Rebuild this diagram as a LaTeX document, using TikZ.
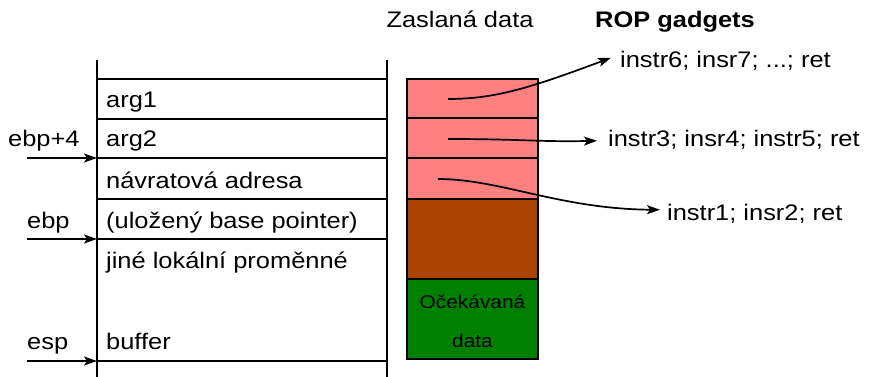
\documentclass[tikz,border=0pt]{standalone}
\usepackage{fontspec}
\setmainfont{Liberation Sans}[FakeStretch=1.13]
\usetikzlibrary{arrows.meta}
\definecolor{pinkc}{HTML}{FF8080}
\definecolor{brownc}{HTML}{AA4400}
\definecolor{greenc}{HTML}{008000}
\begin{document}
\begin{tikzpicture}[x=1pt,y=-1pt,
  txt/.style={font=\fontsize{22.5}{27}\selectfont, inner sep=0pt, anchor=base west},
  stackline/.style={line width=2.9pt},
  cell/.style={draw=black, line width=2.6pt},
  ptr/.style={line width=1.8pt, -{Stealth[length=13pt,width=9pt,inset=3pt]}},
  gad/.style={line width=1.7pt, -{Stealth[length=13pt,width=9pt,inset=3pt]}}]
\useasboundingbox (0,0) rectangle (873,377);
% left stack
\draw[stackline] (97,60) -- (97,377);
\draw[stackline] (387,60) -- (387,377);
\foreach \yy in {79,119,158,199,239,361} \draw[stackline] (97,\yy) -- (387,\yy);
\node[txt] (arg1) at (106,108) {arg1};
\node[txt] (arg2) at (106,147) {arg2};
\node[txt] (ret) at (106,188) {návratová adresa};
\node[txt] (bp) at (106,228) {(uložený base pointer)};
\node[txt] (loc) at (106,268) {jiné lokální proměnné};
\node[txt] (buf) at (106,349) {buffer};
\node[txt] (lebp4) at (8,147) {ebp+4};
\node[txt] (lebp) at (27,228) {ebp};
\node[txt] (lesp) at (27,349) {esp};
\coordinate (s1) at (27,158); \coordinate (e1) at (97,158);
\coordinate (s2) at (27,239); \coordinate (e2) at (97,239);
\coordinate (s3) at (27,361); \coordinate (e3) at (97,361);
\draw[ptr] (s1) -- (e1);
\draw[ptr] (s2) -- (e2);
\draw[ptr] (s3) -- (e3);
% right stack
\node[txt, anchor=base] (zas) at (460,28) {Zaslaná data};
\node[txt, font=\fontsize{22.5}{27}\selectfont\bfseries] (rop) at (595,28) {ROP gadgets};
\draw[cell, fill=pinkc] (407,79) rectangle (538,118);
\draw[cell, fill=pinkc] (407,118) rectangle (538,158);
\draw[cell, fill=pinkc] (407,158) rectangle (538,199);
\draw[cell, fill=brownc] (407,199) rectangle (538,279);
\draw[cell, fill=greenc] (407,279) rectangle (538,359);
\node[font=\fontsize{18.5}{39}\selectfont, align=center, inner sep=0pt] (exp) at (472.5,321) {Očekávaná\\data};
\node[txt] (g6) at (620,68) {instr6; insr7; ...; ret};
\node[txt] (g3) at (608,147) {instr3; insr4; instr5; ret};
\node[txt] (g1) at (667,220) {instr1; insr2; ret};
\coordinate (p1) at (448,99);
\coordinate (p2) at (448,139);
\coordinate (p3) at (438,179);
\draw[gad] (p1) .. controls (495,99) and (530,88) .. ([xshift=-9pt,yshift=3.5pt]g6.west);
\draw[gad] (p2) .. controls (520,139) and (540,142) .. ([xshift=-11pt,yshift=-0.5pt]g3.west);
\draw[gad] (p3) .. controls (500,179) and (560,209) .. ([xshift=-7pt,yshift=3.5pt]g1.west);
\end{tikzpicture}
\end{document}
